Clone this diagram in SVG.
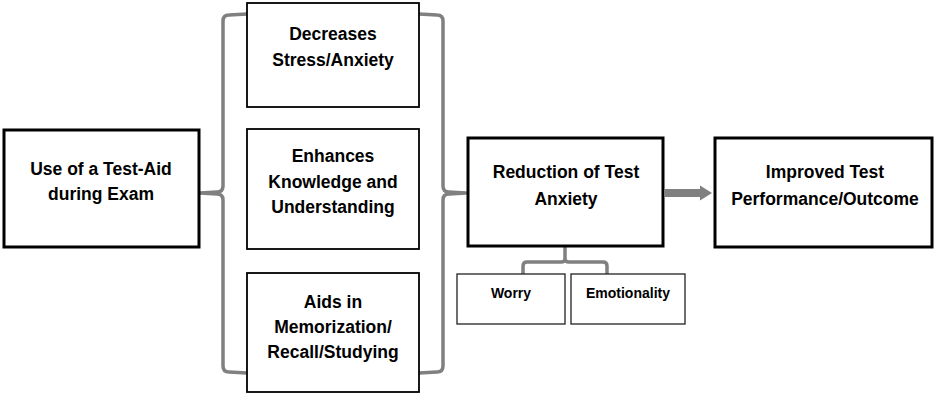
<svg xmlns="http://www.w3.org/2000/svg" width="935" height="394" viewBox="0 0 935 394">
<defs>
<style>
.box{fill:#fff;stroke:#000}
.thick{stroke-width:3}
.thin{stroke-width:1.8}
.sub{stroke-width:1.3;stroke:#222}
.t{font-family:"Liberation Sans",Arial,sans-serif;font-weight:bold;font-size:17.5px;text-anchor:middle;fill:#000}
.s{font-size:14px}
.br{fill:none;stroke:#808080;stroke-width:3.5;stroke-linejoin:round}
</style>
<marker id="ah" markerWidth="2" markerHeight="2" refX="0" refY="0.95" orient="auto" markerUnits="strokeWidth">
<path d="M0,0 L1.5,0.95 L0,1.9 Z" fill="#808080"/>
</marker>
</defs>
<g id="connectors">
<path class="br" d="M247,14 L229,15 Q223,15 223,21 L223,186 Q223,192 217,192 L200,193 L217,194 Q223,194 223,200 L223,366 Q223,372 229,372 L247,373"/>
<path class="br" d="M419,14 L437,15 Q443,15 443,21 L443,186 Q443,192 449,192 L466,193 L449,194 Q443,194 443,200 L443,366 Q443,372 437,372 L419,373"/>
<path class="br" d="M565,247 L565,259 Q565,262 561,262 L527,262 Q523,262 523,266 L523,274 M565,259 Q565,262 569,262 L603,262 Q607,262 607,266 L607,274"/>
<line x1="665" y1="193" x2="700" y2="193" stroke="#808080" stroke-width="8" marker-end="url(#ah)"/>
</g>
<g id="n-testaid">
<rect class="box thick" x="4" y="130" width="195" height="117"/>
<text class="t" x="101" y="175">Use of a Test-Aid</text>
<text class="t" x="101" y="200">during Exam</text>
</g>
<g id="n-stress">
<rect class="box thin" x="247" y="3" width="172" height="104"/>
<text class="t" x="333" y="40">Decreases</text>
<text class="t" x="333" y="66">Stress/Anxiety</text>
</g>
<g id="n-knowledge">
<rect class="box thin" x="247" y="129" width="172" height="120"/>
<text class="t" x="333" y="162">Enhances</text>
<text class="t" x="333" y="188">Knowledge and</text>
<text class="t" x="333" y="213">Understanding</text>
</g>
<g id="n-memo">
<rect class="box thin" x="247" y="273" width="172" height="119"/>
<text class="t" x="333" y="308">Aids in</text>
<text class="t" x="333" y="333">Memorization/</text>
<text class="t" x="333" y="358">Recall/Studying</text>
</g>
<g id="n-reduction">
<rect class="box thick" x="468" y="138" width="195" height="108"/>
<text class="t" x="566" y="178">Reduction of Test</text>
<text class="t" x="566" y="205">Anxiety</text>
</g>
<g id="n-improved">
<rect class="box thick" x="715" y="138" width="217" height="109"/>
<text class="t" x="825" y="178">Improved Test</text>
<text class="t" x="825" y="205">Performance/Outcome</text>
</g>
<g id="n-worry">
<rect class="box sub" x="457" y="274" width="108" height="50"/>
<text class="t s" x="511" y="298">Worry</text>
</g>
<g id="n-emotionality">
<rect class="box sub" x="571" y="274" width="114" height="50"/>
<text class="t s" x="628" y="298">Emotionality</text>
</g>
</svg>
